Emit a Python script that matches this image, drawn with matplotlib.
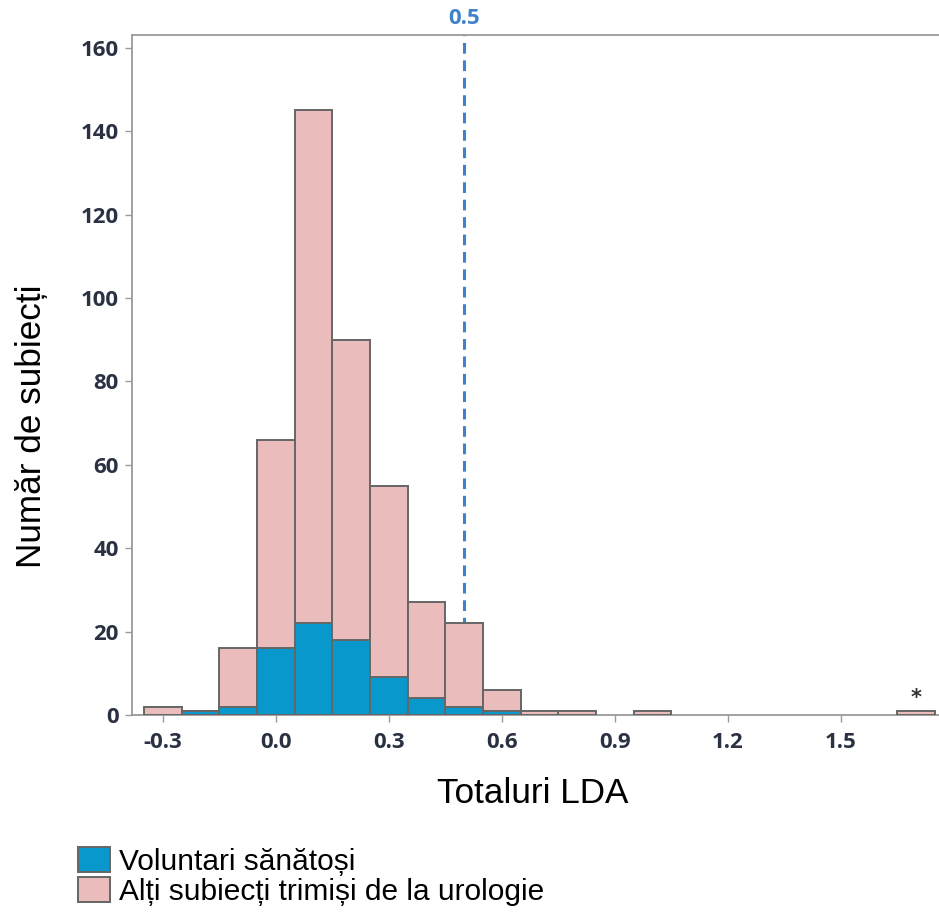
import matplotlib
matplotlib.use("Agg")
import matplotlib.pyplot as plt
from matplotlib.patches import Patch
from matplotlib.transforms import blended_transform_factory

# ---- data ----
bin_centers = [-0.3, -0.2, -0.1, 0.0, 0.1, 0.2, 0.3, 0.4, 0.5, 0.6, 0.7, 0.8, 1.0, 1.7]
healthy = [0, 1, 2, 16, 22, 18, 9, 4, 2, 1, 0, 0, 0, 0]
others = [2, 0, 14, 50, 123, 72, 46, 23, 20, 5, 1, 1, 1, 1]
bin_width = 0.1
cutoff = 0.5
cutoff_label = "0.5"
xtick_vals = [-0.3, 0.0, 0.3, 0.6, 0.9, 1.2, 1.5]
xtick_labels = ["-0.3", "0.0", "0.3", "0.6", "0.9", "1.2", "1.5"]
ytick_vals = [0, 20, 40, 60, 80, 100, 120, 140, 160]
legend_labels = ["Voluntari sănătoși", "Alți subiecți trimiși de la urologie"]
xlabel = "Totaluri LDA"
ylabel = "Număr de subiecți"

# ---- style ----
BLUE = "#0998CB"
PINK = "#EBBCBC"
EDGE = "#666666"
SPINE = "#9a9a9a"
TICKTXT = "#2a3142"
LINEBLUE = "#3f82cc"

W, H = 939, 913
fig = plt.figure(figsize=(W / 100, H / 100), dpi=100)
ax_left, ax_right, ax_top, ax_bot = 132, 939, 35, 715
ax = fig.add_axes([ax_left / W, 1 - ax_bot / H, (ax_right - ax_left) / W, (ax_bot - ax_top) / H])

totals = [h + o for h, o in zip(healthy, others)]

ax.bar(bin_centers, healthy, width=bin_width, color=BLUE, edgecolor=EDGE, linewidth=1.4, zorder=3)
ax.bar(bin_centers, others, width=bin_width, bottom=healthy, color=PINK, edgecolor=EDGE,
       linewidth=1.4, zorder=3)

ax.axvline(cutoff, color=LINEBLUE, linewidth=2.2, linestyle=(0, (3.5, 2.2)), zorder=1)
ax.annotate(cutoff_label, xy=(cutoff, 1.0), xycoords=blended_transform_factory(ax.transData, ax.transAxes),
            xytext=(0, 4), textcoords="offset points", ha="center", va="bottom",
            color=LINEBLUE, fontsize=16, fontweight="bold", family="Open Sans")

# outlier marker
ax.annotate("*", xy=(bin_centers[-1], totals[-1]), xytext=(0, 2), textcoords="offset points",
            ha="center", va="bottom", fontsize=15, fontweight="bold", color="#333333",
            family="DejaVu Sans")

ax.set_xlim(-0.3815, 1.7608)
ax.set_ylim(0, 163.04)

ax.set_xticks(xtick_vals)
ax.set_xticklabels(xtick_labels)
ax.set_yticks(ytick_vals)

for lab in ax.get_xticklabels() + ax.get_yticklabels():
    lab.set_family("Open Sans")
    lab.set_fontweight("bold")
    lab.set_fontsize(16)
    lab.set_color(TICKTXT)

ax.tick_params(axis="x", length=5, width=1, color=SPINE, pad=7.5)
ax.tick_params(axis="y", length=5, width=1, color=SPINE, pad=4.5)

for s in ["left", "top", "bottom"]:
    ax.spines[s].set_color(SPINE)
    ax.spines[s].set_linewidth(1.3)
ax.spines["right"].set_visible(False)

ax.set_xlabel(xlabel, fontsize=25.3, family="Liberation Sans", color="black")
ax.xaxis.set_label_coords((533 - ax_left) / (ax_right - ax_left), (ax_bot - 803) / (ax_bot - ax_top))
ax.xaxis.label.set_verticalalignment("baseline")

ax.set_ylabel(ylabel, fontsize=25.3, family="Liberation Sans", color="black")
ax.yaxis.set_label_coords((40.7 - ax_left) / (ax_right - ax_left), (ax_bot - 426.5) / (ax_bot - ax_top))
ax.yaxis.label.set_verticalalignment("baseline")
ax.yaxis.label.set_horizontalalignment("center")

handles = [Patch(facecolor=BLUE, edgecolor=EDGE, linewidth=1.4),
           Patch(facecolor=PINK, edgecolor=EDGE, linewidth=1.4)]
fig.legend(handles, legend_labels, loc="upper left", bbox_to_anchor=(78 / W, 1 - 847 / H),
           frameon=False, borderpad=0, borderaxespad=0, handlelength=1.06, handleheight=0.9,
           handletextpad=0.3, labelspacing=0.05,
           prop={"family": "Liberation Sans", "size": 21.5})

fig.savefig("out.png", dpi=100)
